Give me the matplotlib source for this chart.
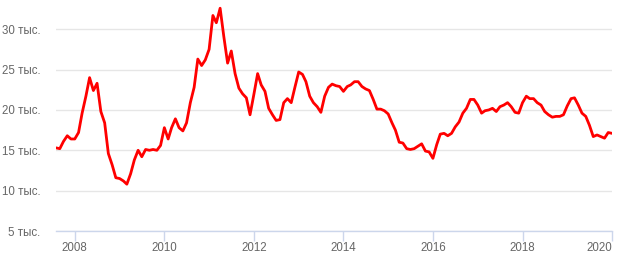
import matplotlib
matplotlib.use("Agg")
import matplotlib.pyplot as plt
import matplotlib.dates as mdates
import numpy as np
import pandas as pd

plt.rcParams['font.family'] = ['Liberation Sans', 'DejaVu Sans']

# monthly values, thousands, Aug 2007 .. Jan 2020
start = "2007-08-01"
values = [15.3, 15.2, 16.1, 16.8, 16.4, 16.4, 17.2, 19.6, 21.7, 24.0,
          22.4, 23.3, 19.8, 18.4, 14.6, 13.2, 11.6, 11.5, 11.2, 10.8,
          12.1, 13.8, 15.0, 14.2, 15.1, 15.0, 15.1, 15.0, 15.6, 17.8,
          16.4, 17.8, 18.9, 17.8, 17.4, 18.4, 20.9, 22.8, 26.3, 25.5,
          26.2, 27.5, 31.7, 30.8, 32.6, 29.1, 25.8, 27.3, 24.5, 22.7,
          22.0, 21.5, 19.4, 21.9, 24.5, 23.1, 22.3, 20.2, 19.4, 18.7,
          18.8, 20.9, 21.4, 20.9, 22.8, 24.7, 24.4, 23.5, 21.7, 20.9,
          20.4, 19.7, 21.7, 22.8, 23.2, 23.0, 22.9, 22.3, 22.9, 23.1,
          23.5, 23.5, 22.9, 22.6, 22.4, 21.3, 20.1, 20.1, 19.9, 19.5,
          18.4, 17.5, 16.0, 15.9, 15.2, 15.1, 15.2, 15.5, 15.8, 14.9,
          14.8, 14.0, 15.7, 17.0, 17.1, 16.8, 17.1, 17.9, 18.5, 19.6,
          20.2, 21.3, 21.3, 20.6, 19.6, 19.9, 20.0, 20.2, 19.8, 20.4,
          20.6, 20.9, 20.4, 19.7, 19.6, 20.9, 21.7, 21.4, 21.4, 20.9,
          20.6, 19.8, 19.4, 19.1, 19.2, 19.2, 19.4, 20.5, 21.4, 21.5,
          20.6, 19.6, 19.2, 18.1, 16.7, 16.9, 16.7, 16.5, 17.2, 17.1]
dates = pd.date_range(start, periods=len(values), freq="MS")

yticks = [5, 10, 15, 20, 25, 30]
ylabels = [f"{t} тыс." for t in yticks]
years = [2008, 2010, 2012, 2014, 2016, 2018, 2020]

fig = plt.figure(figsize=(6.2, 2.6), dpi=100)
ax = fig.add_axes([56/620, 29/260, 556/620, 226/260])

ax.plot(dates, values, color="#ff0000", linewidth=2, solid_joinstyle="round")

ax.set_ylim(5, 33)
ax.set_xlim(dates[0], dates[-1])
ax.set_yticks(yticks)
ax.set_yticklabels(ylabels)
ax.set_xticks([pd.Timestamp(f"{y}-01-01") for y in years])
ax.xaxis.set_major_formatter(mdates.DateFormatter("%Y"))

# grid + axis styling
ax.grid(axis="y", color="#e6e6e6", linewidth=1)
ax.set_axisbelow(True)
for s in ["top", "right", "left"]:
    ax.spines[s].set_visible(False)
ax.spines["bottom"].set_color("#ccd6eb")
ax.spines["bottom"].set_linewidth(1)
ax.tick_params(axis="y", length=0, pad=11, labelsize=8.3, labelcolor="#666666")
ax.tick_params(axis="x", length=7, width=1, color="#ccd6eb", pad=1,
               labelsize=8.3, labelcolor="#666666")

# last year label pushed inside the chart, like the original
fig.canvas.draw()
ax.get_xticklabels()[-1].set_horizontalalignment("right")

fig.savefig("out.png", dpi=100)
